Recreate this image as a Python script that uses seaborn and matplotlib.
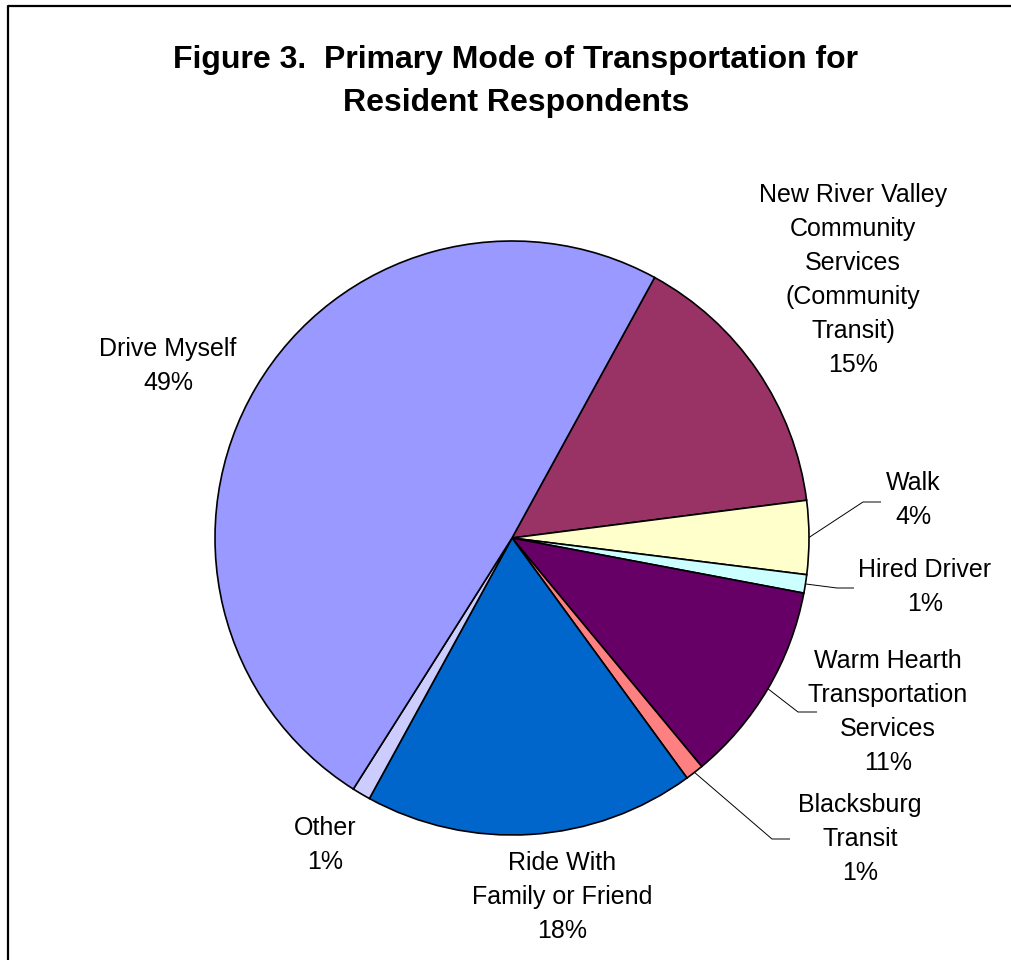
import matplotlib
matplotlib.use("Agg")
import matplotlib.pyplot as plt
import numpy as np
import seaborn as sns

# Survey results: primary mode of transportation (percent of resident respondents)
modes = [
    "New River Valley\nCommunity\nServices\n(Community\nTransit)",
    "Walk",
    "Hired Driver",
    "Warm Hearth\nTransportation\nServices",
    "Blacksburg\nTransit",
    "Ride With\nFamily or Friend",
    "Other",
    "Drive Myself",
]
shares = [15, 4, 1, 11, 1, 18, 1, 49]
slice_colors = ["#993366", "#FFFFCC", "#CCFFFF", "#660066",
                "#FF8080", "#0066CC", "#CCCCFF", "#9999FF"]

title_lines = ["Figure 3.  Primary Mode of Transportation for",
               "Resident Respondents"]

sns.set_theme(style="white")
plt.rcParams["font.family"] = ["Liberation Sans", "DejaVu Sans"]
plt.rcParams["text.color"] = "black"

W, H = 1012, 960
fig = plt.figure(figsize=(W / 100, H / 100), dpi=100)
ax = fig.add_axes([0, 0, 1, 1])

cx, cy, R = 512, H - 538, 297
palette = sns.color_palette(slice_colors)
wedges, _ = ax.pie(
    shares, colors=palette, startangle=61.3, counterclock=False,
    center=(cx, cy), radius=R,
    wedgeprops=dict(edgecolor="black", linewidth=1.2),
)
ax.set_xlim(0, W)
ax.set_ylim(0, H)
ax.set_aspect("equal")
ax.axis("off")

# label block centres (pixels from top-left) and optional leader elbows/ends
label_layout = {
    0: dict(pos=(853, 280)),
    1: dict(pos=(913, 500), elbow=(863, 502), end=(881, 502)),
    2: dict(pos=(925, 587), elbow=(837, 588), end=(854, 588)),
    3: dict(pos=(888, 712), elbow=(798, 712), end=(817, 712)),
    4: dict(pos=(860, 839), elbow=(772, 839), end=(790, 839)),
    5: dict(pos=(562, 897)),
    6: dict(pos=(325, 845)),
    7: dict(pos=(168, 366)),
}

for i, (w, name, val) in enumerate(zip(wedges, modes, shares)):
    lay = label_layout[i]
    lx, ly = lay["pos"]
    ax.text(lx, H - ly, f"{name}\n{val}%", ha="center", va="center",
            multialignment="center", fontsize=18, linespacing=1.52,
            color="black")
    if "elbow" in lay:
        mid = np.deg2rad((w.theta1 + w.theta2) / 2)
        sx, sy = cx + R * np.cos(mid), cy + R * np.sin(mid)
        ex, ey = lay["elbow"]
        tx, ty = lay["end"]
        ax.plot([sx, ex, tx], [sy, H - ey, H - ty], color="black",
                linewidth=0.7, solid_capstyle="butt")

ax.text(516, H - 68, title_lines[0], ha="center", va="baseline",
        fontsize=23, fontweight="bold", color="black")
ax.text(516, H - 111, title_lines[1], ha="center", va="baseline",
        fontsize=23, fontweight="bold", color="black")

# chart frame (left and top edges visible)
ax.plot([8, 8, W + 5], [-5, H - 5.5, H - 5.5], color="black", linewidth=1.6,
        clip_on=False)

fig.savefig("out.png", dpi=100, facecolor="white")
